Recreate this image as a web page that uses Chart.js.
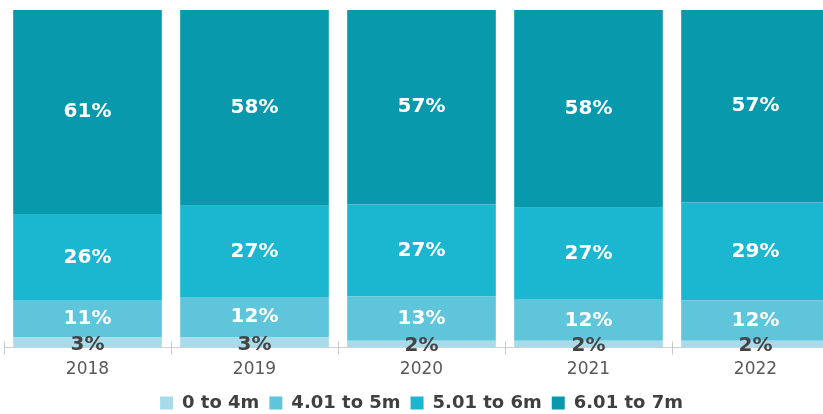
<!DOCTYPE html>
<html>
<head>
<meta charset="utf-8">
<script src="https://cdn.jsdelivr.net/npm/chart.js@4/dist/chart.umd.min.js"></script>
<style>
  html, body { margin: 0; padding: 0; background: #fff; overflow: hidden; }
  #wrap { width: 845px; height: 414px; position: relative; }
</style>
</head>
<body>
<div id="wrap"><canvas id="myChart"></canvas></div>
<script>
const years = ['2018', '2019', '2020', '2021', '2022'];
const seriesNames = ['0 to 4m', '4.01 to 5m', '5.01 to 6m', '6.01 to 7m'];
const upTo4m = [3, 3, 2, 2, 2];
const from4to5m = [11, 12, 13, 12, 12];
const from5to6m = [26, 27, 27, 27, 29];
const from6to7m = [61, 58, 57, 58, 57];

const colors = ['#a7dbea', '#5fc5da', '#1bb7d1', '#0899ad'];
const labelColors = ['#444444', '#ffffff', '#ffffff', '#ffffff'];

const rawSeries = [upTo4m, from4to5m, from5to6m, from6to7m];
// scale each year so the stack fills 100 (the shown numbers are rounded)
const totals = years.map((y, i) => rawSeries.reduce((s, arr) => s + arr[i], 0));
const datasets = rawSeries.map((arr, k) => ({
    label: seriesNames[k],
    data: arr.map((v, i) => v / totals[i] * 100),
    raw: arr,
    backgroundColor: colors[k],
    barPercentage: 0.89,
    categoryPercentage: 1.0
}));

const segLabels = {
    id: 'segLabels',
    afterDatasetsDraw(chart) {
        const c = chart.ctx;
        c.save();
        c.textAlign = 'center';
        c.textBaseline = 'middle';
        c.font = 'bold 20px "DejaVu Sans", sans-serif';
        chart.data.datasets.forEach((ds, k) => {
            chart.getDatasetMeta(k).data.forEach((bar, i) => {
                const mid = (bar.y + bar.base) / 2;
                c.fillStyle = labelColors[k];
                c.fillText(ds.raw[i] + '%', bar.x, k === 0 ? mid + 2 : mid);
            });
        });
        // small cross ticks at category boundaries
        const xs = chart.scales.x;
        const y0 = chart.chartArea.bottom;
        c.strokeStyle = '#c8c8c8';
        c.lineWidth = 1;
        for (let i = 0; i <= years.length; i++) {
            const x = Math.round(xs.getPixelForValue(i - 0.5)) + 0.5;
            c.beginPath();
            c.moveTo(x, y0 - 6);
            c.lineTo(x, y0 + 7);
            c.stroke();
        }
        c.restore();
    }
};

const ctx = document.getElementById('myChart');

new Chart(ctx, {
    type: 'bar',
    data: {
        labels: years,
        datasets: datasets
    },
    plugins: [segLabels],
    options: {
        responsive: true,
        maintainAspectRatio: false,
        animation: false,
        layout: {
            padding: { left: 4, right: 6, top: 10, bottom: -8 }
        },
        scales: {
            x: {
                stacked: true,
                grid: { display: false },
                border: { color: '#d0d0d0', width: 1 },
                ticks: {
                    color: '#595959',
                    padding: 4,
                    font: { size: 17, family: '"DejaVu Sans", sans-serif' }
                }
            },
            y: {
                stacked: true,
                display: false,
                min: 0,
                max: 100
            }
        },
        plugins: {
            legend: {
                position: 'bottom',
                labels: {
                    color: '#404040',
                    boxWidth: 13,
                    boxHeight: 13,
                    padding: 10,
                    font: { size: 18, weight: 'bold', family: '"DejaVu Sans", sans-serif' }
                }
            },
            tooltip: { enabled: false }
        }
    }
});
</script>
</body>
</html>
